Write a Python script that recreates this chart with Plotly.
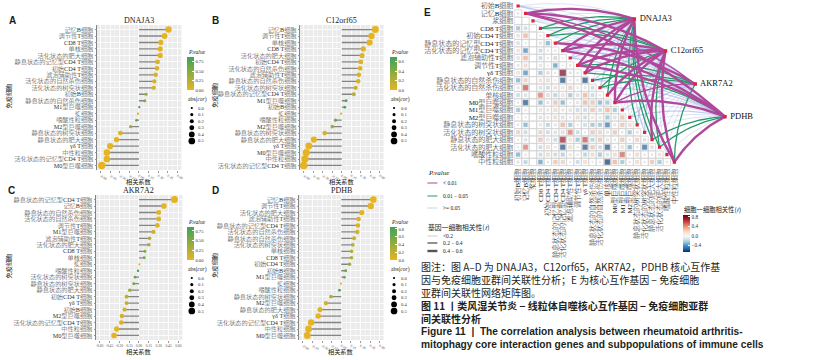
import math
import plotly.graph_objects as go

W, H = 816, 360
NAN = float("nan")

# ---------------- data ----------------
CELLS = ["初始B细胞", "记忆B细胞", "浆细胞", "CD8 T细胞", "初始CD4 T细胞",
         "静息状态的记忆型CD4 T细胞", "活化状态的记忆型CD4 T细胞", "滤泡辅助性T细胞",
         "调节性T细胞", "γδ T细胞", "静息状态的自然杀伤细胞", "活化状态的自然杀伤细胞",
         "单核细胞", "M0型巨噬细胞", "M1型巨噬细胞", "M2型巨噬细胞", "静息状态的树突状细胞",
         "活化状态的树突状细胞", "静息状态的肥大细胞", "活化状态的肥大细胞", "嗜酸性粒细胞",
         "中性粒细胞"]

GENES = ["DNAJA3", "C12orf65", "AKR7A2", "PDHB"]

A_cells = ["记忆B细胞", "调节性T细胞", "CD8 T细胞", "单核细胞", "活化状态的肥大细胞",
           "静息状态的记忆型CD4 T细胞", "初始CD4 T细胞", "滤泡辅助性T细胞", "活化状态的自然杀伤细胞",
           "活化状态的树突状细胞", "初始B细胞", "静息状态的自然杀伤细胞", "M1型巨噬细胞", "浆细胞",
           "嗜酸性粒细胞", "M2型巨噬细胞", "静息状态的树突状细胞", "静息状态的肥大细胞", "γδ T细胞",
           "中性粒细胞", "活化状态的记忆型CD4 T细胞", "M0型巨噬细胞"]
A_r = [0.46, 0.40, 0.34, 0.33, 0.33, 0.29, 0.28, 0.26, 0.24, 0.23, 0.11, 0.09, 0.005, -0.015,
       -0.04, -0.13, -0.29, -0.35, -0.45, -0.50, -0.50, -0.58]
A_p = [0.001, 0.004, 0.016, 0.019, 0.019, 0.040, 0.049, 0.068, 0.093, 0.11, 0.45, 0.53, 0.87, NAN,
       0.78, 0.37, 0.040, 0.013, 0.001, 0.0002, 0.0002, 0.00001]

B_cells = ["记忆B细胞", "调节性T细胞", "单核细胞", "CD8 T细胞", "活化状态的肥大细胞", "初始CD4 T细胞",
           "活化状态的自然杀伤细胞", "滤泡辅助性T细胞", "静息状态的自然杀伤细胞", "活化状态的树突状细胞",
           "静息状态的记忆型CD4 T细胞", "M1型巨噬细胞", "初始B细胞", "浆细胞", "嗜酸性粒细胞",
           "M2型巨噬细胞", "静息状态的树突状细胞", "静息状态的肥大细胞", "γδ T细胞", "M0型巨噬细胞",
           "中性粒细胞", "活化状态的记忆型CD4 T细胞"]
B_r = [0.53, 0.47, 0.44, 0.34, 0.32, 0.30, 0.29, 0.27, 0.26, 0.22, 0.19, 0.07, 0.05, -0.01,
       -0.10, -0.15, -0.27, -0.44, -0.52, -0.56, -0.58, -0.60]
B_p = [0.00008, 0.0006, 0.0014, 0.016, 0.023, 0.034, 0.041, 0.058, 0.068, 0.125, 0.19, 0.62, 0.70,
       NAN, 0.48, 0.30, 0.058, 0.0014, 0.0001, 0.00002, 0.00001, 0.000004]

C_cells = ["静息状态的记忆型CD4 T细胞", "记忆B细胞", "静息状态的自然杀伤细胞", "活化状态的自然杀伤细胞",
           "调节性T细胞", "M1型巨噬细胞", "滤泡辅助性T细胞", "活化状态的肥大细胞", "CD8 T细胞", "单核细胞",
           "浆细胞", "嗜酸性粒细胞", "活化状态的树突状细胞", "静息状态的树突状细胞", "静息状态的肥大细胞",
           "初始CD4 T细胞", "γδ T细胞", "初始B细胞", "M2型巨噬细胞", "活化状态的记忆型CD4 T细胞",
           "中性粒细胞", "M0型巨噬细胞"]
C_r = [0.54, 0.38, 0.30, 0.30, 0.28, 0.22, 0.16, 0.15, 0.09, 0.08, 0.005, -0.015, -0.06, -0.08,
       -0.14, -0.19, -0.19, -0.22, -0.26, -0.27, -0.34, -0.38]
C_p = [0.00005, 0.006, 0.034, 0.034, 0.049, 0.125, 0.27, 0.30, 0.53, 0.58, NAN, 0.85, 0.68, 0.58,
       0.33, 0.19, 0.19, 0.125, 0.068, 0.058, 0.016, 0.006]

D_cells = ["记忆B细胞", "调节性T细胞", "活化状态的肥大细胞", "滤泡辅助性T细胞", "静息状态的记忆型CD4 T细胞",
           "活化状态的自然杀伤细胞", "静息状态的自然杀伤细胞", "活化状态的树突状细胞", "单核细胞", "CD8 T细胞",
           "初始CD4 T细胞", "初始B细胞", "M1型巨噬细胞", "浆细胞", "嗜酸性粒细胞", "静息状态的树突状细胞",
           "M2型巨噬细胞", "静息状态的肥大细胞", "γδ T细胞", "活化状态的记忆型CD4 T细胞", "中性粒细胞",
           "M0型巨噬细胞"]
D_r = [0.50, 0.46, 0.32, 0.27, 0.26, 0.25, 0.20, 0.18, 0.16, 0.16, 0.13, 0.07, 0.05, -0.005,
       -0.03, -0.16, -0.24, -0.33, -0.36, -0.47, -0.51, -0.53]
D_p = [0.0002, 0.0008, 0.023, 0.058, 0.068, 0.08, 0.16, 0.21, 0.27, 0.27, 0.37, 0.63, 0.72, NAN,
       0.85, 0.27, 0.093, 0.019, 0.010, 0.0006, 0.0002, 0.0001]

# cell-cell correlation, lower triangle (row i has i values for columns 0..i-1)
CC = [
    [],
    [0.05],
    [0, 0],
    [-0.3, -0.18, 0],
    [0.15, 0.35, 0, 0.05],
    [-0.15, 0.02, 0, -0.1, -0.35],
    [0.15, -0.45, 0, -0.2, 0.05, -0.05],
    [0.15, 0.35, 0, -0.2, 0.05, -0.2, 0.02],
    [0.08, 0.2, 0, -0.1, 0.02, -0.4, 0.02, 0.06],
    [0.15, -0.45, 0, -0.3, -0.15, -0.05, 0.85, -0.1, 0.05],
    [-0.35, 0.25, 0, 0.15, 0.2, 0.03, -0.6, 0.03, 0.06, -0.62],
    [0.1, 0.6, 0, -0.15, -0.2, 0.15, 0.1, 0.25, 0.05, 0.1, -0.2],
    [-0.2, -0.15, 0, 0.5, 0.2, -0.25, 0.15, -0.3, -0.15, 0.35, -0.2, 0.05],
    [0.05, -0.6, 0, -0.35, -0.1, 0.3, -0.35, 0.03, -0.1, 0.35, 0.3, -0.35, -0.3],
    [-0.3, 0.05, 0, 0.15, 0.1, 0.2, 0.1, 0.15, -0.2, -0.2, 0.3, -0.2, 0.35, -0.3],
    [0.03, 0.03, 0, -0.15, 0.1, 0.2, -0.15, 0.05, 0.2, -0.2, 0.1, 0.1, -0.3, -0.15, 0.3],
    [0.05, -0.35, 0, 0.1, -0.25, 0.1, 0.35, -0.3, 0.03, -0.2, -0.3, -0.3, -0.5, 0.1, 0.3, 0.2],
    [0.25, -0.2, 0, 0.25, -0.2, -0.15, 0.2, 0.5, -0.2, 0.03, 0.3, 0.25, -0.1, 0.3, 0.05, -0.3, 0.1],
    [0.03, -0.15, 0, 0.3, 0.15, -0.2, 0.75, 0.15, -0.3, 0.6, -0.25, 0.3, -0.1, 0.05, 0.3, 0.05, 0.25, -0.15],
    [0.03, 0.5, 0, -0.2, 0.2, 0.05, -0.6, 0.2, 0.05, -0.6, 0.3, -0.2, -0.6, 0.05, 0.15, -0.35, 0.05, -0.55, -0.15],
    [-0.35, 0.05, 0, -0.2, 0.2, -0.2, -0.25, 0.1, 0.05, -0.25, 0.2, -0.3, -0.15, 0.2, 0.55, 0.05, 0.2, 0.05, 0.05, 0.15],
    [0.1, -0.25, 0, -0.4, 0.05, 0.3, 0.25, 0.03, -0.2, 0.2, 0.03, 0.05, -0.66, 0.35, -0.3, 0.05, 0.2, 0.05, 0.3, -0.3, 0.05],
]

XTICKS = [-0.60, -0.45, -0.30, -0.15, 0.00, 0.15, 0.30, 0.45, 0.60]
SIZE_LEGEND = [0.0, 0.1, 0.2, 0.3, 0.4, 0.5]

CAPTION_NOTE = ["图注：图 A–D 为 DNAJA3，C12orf65，AKR7A2，PDHB 核心互作基",
                "因与免疫细胞亚群间关联性分析；E 为核心互作基因 − 免疫细胞",
                "亚群间关联性网络矩阵图。"]
CAPTION_TITLE_CN = ["图 11 丨类风湿关节炎 − 线粒体自噬核心互作基因 − 免疫细胞亚群", "间关联性分析"]
CAPTION_TITLE_EN = ["Figure 11  |  The correlation analysis between rheumatoid arthritis-",
                    "mitophagy core interaction genes and subpopulations of immune cells"]

# ---------------- style ----------------
SERIF = "Liberation Serif, Noto Sans CJK SC, serif"
CJK = "Noto Sans CJK SC, sans-serif"
LOW, HIGH = "#E6B422", "#3DA35D"
PURPLE, GREEN, LIGHT = "#B0479A", "#25996A", "rgba(160,174,226,0.6)"


def px_x(p):
    return p / W


def px_y(p):
    return 1 - p / H


def size_of(r):
    return 2.2 + 9.0 * abs(r)


fig = go.Figure()
annotations = []
shapes = []
layout = {}


def ann(x, y, text, size, family=SERIF, xanchor="center", yanchor="middle", angle=0, color="#1a1a1a",
        align="center"):
    annotations.append(dict(x=px_x(x), y=px_y(y), xref="paper", yref="paper", text=text,
                            showarrow=False, xanchor=xanchor, yanchor=yanchor, textangle=angle,
                            borderpad=0, align=align, font=dict(size=size, family=family, color=color)))


panels = [
    dict(k=1, gene=GENES[0], cells=A_cells, r=A_r, p=A_p, letter="A", x0=96, x1=181, y0=25, y1=170,
         lx=187, dy=0, ticks=[0, 0.25, 0.5, 0.75], fmt=".2f", ytx=8, letx=12),
    dict(k=2, gene=GENES[1], cells=B_cells, r=B_r, p=B_p, letter="B", x0=300, x1=384, y0=25, y1=170,
         lx=390, dy=0, ticks=[0, 0.2, 0.4, 0.6], fmt=".1f", ytx=214, letx=215),
    dict(k=3, gene=GENES[2], cells=C_cells, r=C_r, p=C_p, letter="C", x0=95, x1=182, y0=195, y1=340,
         lx=187, dy=170, ticks=[0, 0.25, 0.5, 0.75], fmt=".2f", ytx=8, letx=11),
    dict(k=4, gene=GENES[3], cells=D_cells, r=D_r, p=D_p, letter="D", x0=299, x1=384, y0=195, y1=340,
         lx=390, dy=170, ticks=[0, 0.2, 0.4, 0.6, 0.8], fmt=".1f", ytx=214, letx=215),
]

for pn in panels:
    k = pn["k"]
    sfx = "" if k == 1 else str(k)
    xa, ya = f"x{sfx}", f"y{sfx}"
    ca = f"coloraxis{sfx}"
    cells, r, p = pn["cells"], pn["r"], pn["p"]
    segx, segy = [], []
    for c, v in zip(cells, r):
        segx += [0, v, None]
        segy += [c, c, None]
    fig.add_trace(go.Scatter(x=segx, y=segy, mode="lines", xaxis=xa, yaxis=ya,
                             line=dict(color="#858585", width=1.3), hoverinfo="skip", showlegend=False))
    pcol = [0 if math.isnan(v) else v for v in p]
    fig.add_trace(go.Scatter(x=r, y=cells, mode="markers", xaxis=xa, yaxis=ya, showlegend=False,
                             marker=dict(color=pcol, coloraxis=ca, size=[size_of(v) for v in r],
                                         line=dict(width=0), opacity=1)))
    pmax = max(v for v in p if not math.isnan(v))
    layout[ca] = dict(colorscale=[[0, LOW], [1, HIGH]], cmin=0, cmax=pmax,
                      colorbar=dict(x=px_x(pn["lx"]), xanchor="left", y=px_y(57 + pn["dy"]), yanchor="top",
                                    len=33, lenmode="pixels", thickness=7, thicknessmode="pixels",
                                    xpad=0, ypad=0, outlinewidth=0, tickvals=pn["ticks"],
                                    tickformat=pn["fmt"], ticks="inside", tickcolor="white", ticklen=2,
                                    tickfont=dict(size=4.6, family=SERIF, color="#333")))
    layout[f"xaxis{sfx}"] = dict(domain=[px_x(pn["x0"]), px_x(pn["x1"])], range=[-0.66, 0.66],
                                 anchor=ya, tickmode="array", tickvals=XTICKS,
                                 ticktext=[f"{v:.2f}" for v in XTICKS],
                                 tickfont=dict(size=3.6, family=SERIF, color="#4D4D4D"),
                                 showgrid=True, gridcolor="white", gridwidth=0.8, zeroline=False,
                                 showline=False, ticks="outside", ticklen=1.5, tickwidth=0.5,
                                 tickcolor="#333", fixedrange=True,
                                 minor=dict(tickvals=[(a + b) / 2 for a, b in zip(XTICKS[:-1], XTICKS[1:])],
                                            showgrid=True, gridcolor="white", gridwidth=0.4, ticks=""))
    layout[f"yaxis{sfx}"] = dict(domain=[px_y(pn["y1"]), px_y(pn["y0"])], anchor=xa, type="category",
                                 categoryorder="array", categoryarray=list(reversed(cells)),
                                 tickmode="array", tickvals=cells, ticktext=cells,
                                 range=[-0.7, len(cells) - 0.3],
                                 tickfont=dict(size=6.2, family=SERIF, color="#333", weight=300),
                                 showgrid=True, gridcolor="white", gridwidth=0.8, zeroline=False,
                                 ticks="outside", ticklen=1.5, tickwidth=0.5, tickcolor="#333",
                                 showline=True, linecolor="#333", linewidth=0.6, fixedrange=True)
    shapes.append(dict(type="rect", xref=f"{xa} domain", yref=f"{ya} domain", x0=0, x1=1, y0=0, y1=1,
                       fillcolor="#EBEBEB", line=dict(width=0), layer="below"))
    cx = (pn["x0"] + pn["x1"]) / 2
    ann(cx, pn["y0"] - 5, pn["gene"], 8)
    ann(pn["letx"], pn["y0"] - 5, f"<b>{pn['letter']}</b>", 10, family="Liberation Sans, sans-serif")
    ann(cx, pn["y1"] + 11.5, "相关系数", 6.2, family=CJK)
    ann(pn["ytx"], (pn["y0"] + pn["y1"]) / 2 - 2, "免疫细胞", 6.2, family=CJK, angle=-90)
    # legend titles
    ann(pn["lx"], 52 + pn["dy"], "<i>P.value</i>", 5.6, xanchor="left")
    ann(pn["lx"], 99 + pn["dy"], "abs(<i>cor</i>)", 5.6, xanchor="left")
    for i, v in enumerate(SIZE_LEGEND):
        cy = 108 + i * 6.6 + pn["dy"]
        d = size_of(v)
        lcx = pn["lx"] + 4.5
        shapes.append(dict(type="circle", xref="paper", yref="paper",
                           x0=px_x(lcx - d / 2), x1=px_x(lcx + d / 2),
                           y0=px_y(cy + d / 2), y1=px_y(cy - d / 2),
                           fillcolor="black", line=dict(width=0)))
        ann(pn["lx"] + 10, cy, f"{v:.1f}", 4.6, xanchor="left", color="#333")

# ---------------- panel E ----------------
UX = 7.47
UY = 7.43
EX0, EY0 = 519.0, 6.0
xr = [-0.5, 28.5]
yr = [21.6, -0.8]
layout["xaxis5"] = dict(domain=[px_x(EX0 + xr[0] * UX), px_x(EX0 + xr[1] * UX)], range=xr, anchor="y5",
                        tickmode="array", tickvals=list(range(len(CELLS))), ticktext=CELLS, tickangle=-90,
                        tickfont=dict(size=7, family=SERIF, color="#1a1a1a", weight=300),
                        showgrid=False, zeroline=False, showline=False, ticks="", fixedrange=True)
layout["yaxis5"] = dict(domain=[px_y(EY0 + yr[0] * UY), px_y(EY0 + yr[1] * UY)], range=yr, anchor="x5",
                        tickmode="array", tickvals=list(range(len(CELLS))), ticktext=CELLS,
                        tickfont=dict(size=7, family=SERIF, color="#1a1a1a", weight=300),
                        showgrid=False, zeroline=False, showline=False, ticks="", fixedrange=True)

GENE_POS = [(15.62, 1.75), (19.8, 6.05), (23.8, 10.5), (27.8, 14.9)]

# background cells
bx, by = [], []
for i, row in enumerate(CC):
    for j, v in enumerate(row):
        bx.append(j)
        by.append(i)
fig.add_trace(go.Scatter(x=bx, y=by, mode="markers", xaxis="x5", yaxis="y5", showlegend=False,
                         hoverinfo="skip",
                         marker=dict(symbol="square", size=7.2, color="white",
                                     line=dict(color="#D0D0D0", width=0.8))))
sx, sy, sv = [], [], []
for i, row in enumerate(CC):
    for j, v in enumerate(row):
        if v != 0:
            sx.append(j)
            sy.append(i)
            sv.append(v)
fig.add_trace(go.Scatter(x=sx, y=sy, mode="markers", xaxis="x5", yaxis="y5", showlegend=False,
                         marker=dict(symbol="square", size=[min(6.6, 7.0 * math.sqrt(abs(v))) for v in sv],
                                     color=sv, coloraxis="coloraxis5",
                                     line=dict(color="#B8B8B8", width=0.4))))

CMIN, CMAX = -0.67, 0.88
brewer_neg = ["#053061", "#2166AC", "#4393C3", "#92C5DE", "#D1E5F0", "#F7F7F7"]
brewer_pos = ["#F7F7F7", "#FDDBC7", "#F4A582", "#D6604D", "#B2182B", "#67001F"]
cs = []
for i, c in enumerate(brewer_neg):
    v = CMIN + (0 - CMIN) * i / 5
    cs.append([(v - CMIN) / (CMAX - CMIN), c])
for i, c in enumerate(brewer_pos[1:], start=1):
    v = CMAX * i / 5
    cs.append([(v - CMIN) / (CMAX - CMIN), c])
cs[-1][0] = 1.0
layout["coloraxis5"] = dict(colorscale=cs, cmin=CMIN, cmax=CMAX,
                            colorbar=dict(x=px_x(685), xanchor="left", y=px_y(215), yanchor="top",
                                          len=37, lenmode="pixels", thickness=7, thicknessmode="pixels",
                                          xpad=0, ypad=0, outlinewidth=0, tickvals=[-0.4, 0, 0.4, 0.8],
                                          ticktext=["−0.4", "0.0", "0.4", "0.8"], ticks="inside",
                                          tickcolor="white", ticklen=2,
                                          tickfont=dict(size=5.3, family=SERIF, color="#333")))


# network lines (cell -> gene), colour by P, width by |r|
def curve(x0, y0, x1, y1, c=0.13, n=28):
    mx, my = (x0 + x1) / 2, (y0 + y1) / 2
    dx, dy = x1 - x0, y1 - y0
    cx, cy = mx + c * dy, my - c * dx
    xs, ys = [], []
    for k in range(n + 1):
        t = k / n
        xs.append((1 - t) ** 2 * x0 + 2 * (1 - t) * t * cx + t ** 2 * x1)
        ys.append((1 - t) ** 2 * y0 + 2 * (1 - t) * t * cy + t ** 2 * y1)
    return xs, ys


gene_data = [(A_cells, A_r, A_p), (B_cells, B_r, B_p), (C_cells, C_r, C_p), (D_cells, D_r, D_p)]
groups = {}
for g, (gcells, gr, gp) in enumerate(gene_data):
    lut = {c: (rv, pv) for c, rv, pv in zip(gcells, gr, gp)}
    gx, gy = GENE_POS[g]
    for i, cell in enumerate(CELLS):
        rv, pv = lut[cell]
        if math.isnan(pv) or pv >= 0.05:
            pc = 2
        elif pv >= 0.01:
            pc = 1
        else:
            pc = 0
        a = abs(rv)
        wc = 0 if a < 0.2 else (1 if a < 0.4 else 2)
        xs, ys = curve(i, i, gx, gy)
        key = (pc, wc)
        groups.setdefault(key, ([], []))
        groups[key][0].extend(xs + [None])
        groups[key][1].extend(ys + [None])

PCOL = {0: PURPLE, 1: GREEN, 2: LIGHT}
WID = {0: 0.6, 1: 1.3, 2: 2.4}
for pc in (2, 1, 0):
    for wc in (0, 1, 2):
        if (pc, wc) in groups:
            xs, ys = groups[(pc, wc)]
            fig.add_trace(go.Scatter(x=xs, y=ys, mode="lines", xaxis="x5", yaxis="y5", showlegend=False,
                                     hoverinfo="skip", line=dict(color=PCOL[pc], width=WID[wc])))

fig.add_trace(go.Scatter(x=list(range(len(CELLS))), y=list(range(len(CELLS))), mode="markers",
                         xaxis="x5", yaxis="y5", showlegend=False,
                         marker=dict(symbol="square", size=3.2, color="#D7263D")))
fig.add_trace(go.Scatter(x=[p[0] for p in GENE_POS], y=[p[1] for p in GENE_POS], mode="markers+text",
                         xaxis="x5", yaxis="y5", showlegend=False, cliponaxis=False,
                         text=[" " + g for g in GENES], textposition="middle right",
                         textfont=dict(size=8.5, family=SERIF, color="#111"),
                         marker=dict(symbol="square", size=3.5, color="#D7263D")))

ann(428, 13, "<b>E</b>", 10, family="Liberation Sans, sans-serif")

# E legends
ann(428, 173, "<i>P.value</i>", 7, xanchor="left")
for yy, col, lab in [(183, PURPLE, "&lt; 0.01"), (196, GREEN, "0.01 − 0.05"), (208, "#C8D0EE", "&gt;= 0.05")]:
    shapes.append(dict(type="line", xref="paper", yref="paper", x0=px_x(428), x1=px_x(438),
                       y0=px_y(yy), y1=px_y(yy), line=dict(color=col, width=1)))
    ann(443, yy, lab, 5.5, xanchor="left")
ann(428, 227, "基因一细胞相关性(<i>r</i>)", 6.8, family=CJK, xanchor="left")
for yy, wv, lab, col in [(236, 0.6, "&lt;0.2", "#AAAAAA"), (243, 1.3, "0.2 − 0.4", "#555"),
                         (251, 2.4, "0.4 − 0.6", "#555")]:
    shapes.append(dict(type="line", xref="paper", yref="paper", x0=px_x(428), x1=px_x(438),
                       y0=px_y(yy), y1=px_y(yy), line=dict(color=col, width=wv)))
    ann(443, yy, lab, 5.5, xanchor="left")
ann(685, 209, "细胞一细胞相关性(<i>r</i>)", 6.3, family=CJK, xanchor="left")

# caption (three blocks, multi-line)
ann(421, 279, "<br>".join(CAPTION_NOTE), 10.0, family=CJK, xanchor="left", color="#231F20", align="left")
ann(421, 311.5, "<b>" + "<br>".join(CAPTION_TITLE_CN) + "</b>", 10.0, family=CJK, xanchor="left",
    color="#231F20", align="left")
ann(421, 338.2, "<b>" + "<br>".join(CAPTION_TITLE_EN) + "</b>", 10.2, family="Liberation Sans, sans-serif",
    xanchor="left", color="#231F20", align="left")

fig.update_layout(width=W, height=H, margin=dict(l=0, r=0, t=0, b=0), paper_bgcolor="white",
                  plot_bgcolor="rgba(0,0,0,0)", showlegend=False, annotations=annotations,
                  shapes=shapes, **layout)
fig.write_html("out.html", config={"displayModeBar": False, "staticPlot": True},
               post_script="document.body.style.margin='0px';document.body.style.padding='0px';")
